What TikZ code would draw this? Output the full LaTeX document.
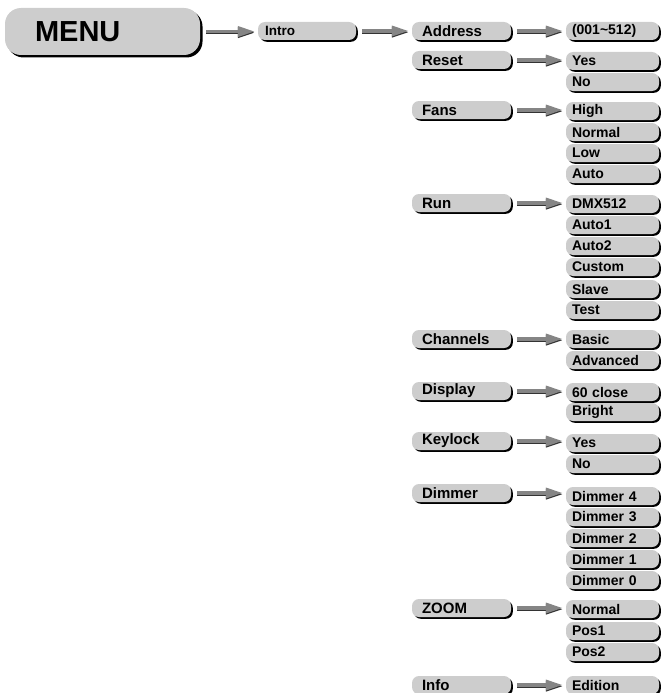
\documentclass[tikz,border=0pt]{standalone}
\usepackage{fontspec}
\setmainfont{Liberation Sans}
\usetikzlibrary{shadows,arrows.meta}
\definecolor{boxgray}{HTML}{CDCDCD}
\definecolor{arrgray}{HTML}{858585}
\definecolor{arrdark}{HTML}{333333}
\newcommand\menuarrow[2]{%
  \draw[arrsh] ([yshift=-1.2pt]#1) -- ([yshift=-1.2pt]#2);
  \draw[arr] (#1) -- (#2);}
\begin{document}
\begin{tikzpicture}[x=1pt,y=-1pt,
  box/.style={fill=boxgray, rounded corners=7pt, minimum height=18pt, inner ysep=0pt,
    font=\fontsize{14}{16}\selectfont\bfseries, align=left,
    drop shadow={shadow xshift=1.8pt, shadow yshift=-1.8pt, fill=black, opacity=1}},
  mid/.style={box, minimum width=99pt, text width=79pt, inner xsep=10pt,
    font=\fontsize{15}{17}\selectfont\bfseries},
  val/.style={box, minimum width=93pt, text width=81pt, inner xsep=6pt},
  arr/.style={draw=arrgray, line width=3.2pt, shorten <=6pt, shorten >=3pt,
    -{Triangle[length=17pt,width=10pt]}},
  arrsh/.style={draw=arrdark, line width=3.2pt, shorten <=6pt, shorten >=3pt,
    -{Triangle[length=17pt,width=10pt]}}]
\useasboundingbox (0,0) rectangle (662,693);

% top level
\node[box, minimum width=195pt, minimum height=47pt, text width=135pt, inner xsep=30pt,
  rounded corners=16pt, font=\fontsize{29}{31}\selectfont\bfseries,
  drop shadow={shadow xshift=2.5pt, shadow yshift=-2.5pt, fill=black, opacity=1}]
  (menu) at (102.5,31.5) {MENU};
\node[box, minimum width=98pt, text width=84pt, inner xsep=7pt,
  font=\fontsize{13.5}{15}\selectfont\bfseries] (intro) at (307,31) {Intro};

% middle column
\node[mid] (address) at (461.5,31) {Address};
\node[mid] (reset) at (461.5,60) {Reset};
\node[mid] (fans) at (461.5,110) {Fans};
\node[mid] (run) at (461.5,203) {Run};
\node[mid] (channels) at (461.5,339) {Channels};
\node[mid] (display) at (461.5,391) {Display};
\node[mid] (keylock) at (461.5,441) {Keylock};
\node[mid] (dimmer) at (461.5,493) {Dimmer};
\node[mid] (zoom) at (461.5,608) {ZOOM};
\node[mid] (info) at (461.5,685) {Info};

% right column
\node[val] (addrv) at (612.5,31) {(001\textasciitilde512)};
\node[val] (ryes) at (612.5,61) {Yes};
\node[val] (rno) at (612.5,82) {No};
\node[val] (fhigh) at (612.5,111) {High};
\node[val] (fnormal) at (612.5,132) {Normal};
\node[val] (flow) at (612.5,153) {Low};
\node[val] (fauto) at (612.5,174) {Auto};
\node[val] (rdmx) at (612.5,204) {DMX512};
\node[val] (rauto1) at (612.5,225) {Auto1};
\node[val] (rauto2) at (612.5,246) {Auto2};
\node[val] (rcustom) at (612.5,267) {Custom};
\node[val] (rslave) at (612.5,289) {Slave};
\node[val] (rtest) at (612.5,310) {Test};
\node[val] (cbasic) at (612.5,339) {Basic};
\node[val] (cadv) at (612.5,360) {Advanced};
\node[val] (dclose) at (612.5,392) {60 close};
\node[val] (dbright) at (612.5,412) {Bright};
\node[val] (kyes) at (612.5,443) {Yes};
\node[val] (kno) at (612.5,464) {No};
\node[val] (dm4) at (612.5,496) {Dimmer 4};
\node[val] (dm3) at (612.5,517) {Dimmer 3};
\node[val] (dm2) at (612.5,538) {Dimmer 2};
\node[val] (dm1) at (612.5,559) {Dimmer 1};
\node[val] (dm0) at (612.5,580) {Dimmer 0};
\node[val] (znormal) at (612.5,609) {Normal};
\node[val] (zpos1) at (612.5,631) {Pos1};
\node[val] (zpos2) at (612.5,652) {Pos2};
\node[val] (iedition) at (612.5,685) {Edition};

% arrows
\menuarrow{menu.east}{menu.east -| intro.west}
\menuarrow{intro.east}{intro.east -| address.west}
\menuarrow{address.east}{address.east -| addrv.west}
\menuarrow{reset.east}{reset.east -| ryes.west}
\menuarrow{fans.east}{fans.east -| fhigh.west}
\menuarrow{run.east}{run.east -| rdmx.west}
\menuarrow{channels.east}{channels.east -| cbasic.west}
\menuarrow{display.east}{display.east -| dclose.west}
\menuarrow{keylock.east}{keylock.east -| kyes.west}
\menuarrow{dimmer.east}{dimmer.east -| dm4.west}
\menuarrow{zoom.east}{zoom.east -| znormal.west}
\menuarrow{info.east}{info.east -| iedition.west}
\end{tikzpicture}
\end{document}
